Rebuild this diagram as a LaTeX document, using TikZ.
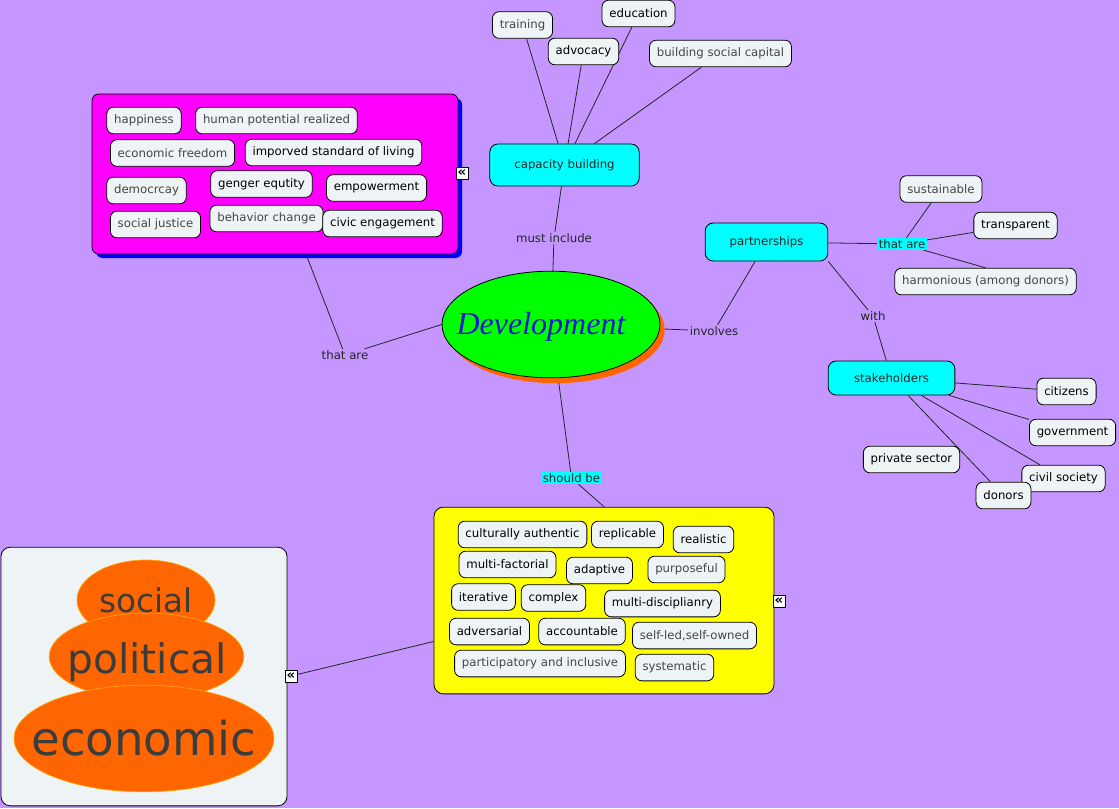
\documentclass[tikz,border=0pt]{standalone}
\usepackage{fontspec}
\setmainfont{DejaVu Sans}
\newfontfamily\devfont{Liberation Serif}
\usetikzlibrary{shapes.geometric, shadows, backgrounds}
\definecolor{lilac}{HTML}{C596FF}
\definecolor{pale}{HTML}{EEF4F5}
\definecolor{ink}{HTML}{454545}
\definecolor{dark}{HTML}{3C3C3C}
\definecolor{peel}{HTML}{FF6600}
\definecolor{aqua}{HTML}{00FFFF}
\definecolor{fuchsia}{HTML}{FF00FF}
\definecolor{lemon}{HTML}{FFFF00}
\definecolor{lime}{HTML}{00FF00}
\definecolor{royal}{HTML}{0000FF}
\definecolor{devblue}{HTML}{1A1ACC}
\tikzset{
  item/.style={draw=black, line width=0.6pt, fill=pale, rounded corners=5pt, inner xsep=5.5pt,
               inner ysep=0pt, minimum height=20pt, text=#1, font=\fontsize{8.8}{10}\selectfont},
  item/.default=black,
  cbox/.style={draw=black, line width=0.6pt, fill=aqua, rounded corners=6pt, minimum width=#1,
               text=black!85, font=\fontsize{8.8}{10}\selectfont},
  lbl/.style={inner sep=1pt, text=black!85, font=\fontsize{8.8}{10}\selectfont},
  hlbl/.style={lbl, fill=aqua},
  panel/.style={draw=black, line width=0.6pt, rounded corners=6pt, minimum width=#1},
  blob/.style={ellipse, fill=peel, draw=orange!70!yellow, line width=0.5pt, inner sep=0pt},
  bigword/.style={text=dark, font=\fontsize{#1}{#1}\selectfont},
  fold/.style={draw=black, fill=white, line width=0.5pt, inner sep=0pt, minimum width=9pt,
               minimum height=9pt, font=\bfseries\fontsize{10}{10}\selectfont},
  link/.style={draw=black!85, line width=0.6pt},
}

\begin{document}
\begin{tikzpicture}[x=0.75pt, y=-0.75pt]
  \useasboundingbox (0,0) rectangle (1119,808);
  \begin{scope}[on background layer]
    \fill[lilac] (0,0) rectangle (1119,808);
  \end{scope}

  % centre
  \node[ellipse, draw=black, line width=0.6pt, fill=lime, minimum width=163.5pt, minimum height=80pt,
        general shadow={fill=peel, shadow xshift=3.5pt, shadow yshift=-4pt}] (dev) at (551,324.5) {};
  \node[text=devblue, font=\devfont\itshape\fontsize{24}{24}\selectfont] (devtxt) at (541,327) {Development};

  % what development is
  \node[panel=274.5pt, minimum height=120pt, fill=fuchsia, rounded corners=5pt,
        general shadow={fill=royal, shadow xshift=3pt, shadow yshift=-3pt}] (goals) at (275,174) {};
  \foreach \nm/\px/\py/\col/\txt in {
      hap/144/120.5/ink/happiness,
      hpr/276.5/120.5/ink/human potential realized,
      ecf/172.5/153/ink/economic freedom,
      isl/333.5/152.5/black/imporved standard of living,
      dem/146.5/190.5/ink/democrcay,
      geq/261.5/184/black/genger equtity,
      emp/376.5/188/black/empowerment,
      sj/155.5/224.5/ink/social justice,
      beh/266.5/218.5/ink/behavior change,
      ceng/382.5/223.5/black/civic engagement}
    \node[item=\col] (\nm) at (\px,\py) {\txt};
  \node[fold] (fgoals) at (462,173) {«};
  \node[lbl] (thatL) at (345,355) {that are};

  % capacity building
  \node[cbox=112pt, minimum height=31.5pt] (cap) at (564.5,165) {capacity building};
  \node[item=ink] (train) at (522.5,25) {training};
  \node[item] (edu) at (638.5,13.5) {education};
  \node[item] (adv) at (583.5,51.5) {advocacy};
  \node[item=ink] (bsc) at (720.5,53.5) {building social capital};
  \node[lbl] (must) at (554,238) {must include};

  % partnerships and stakeholders
  \node[lbl] (inv) at (714,331) {involves};
  \node[cbox=92pt, minimum height=28.5pt] (part) at (766.5,242) {partnerships};
  \node[hlbl] (thatR) at (902,244) {that are};
  \node[item=ink] (sus) at (941,189) {sustainable};
  \node[item] (trans) at (1015.5,225.5) {transparent};
  \node[item=ink] (harm) at (985.5,281.5) {harmonious (among donors)};
  \node[lbl] (with) at (873,316) {with};
  \node[cbox=95pt, minimum height=25.5pt] (stake) at (891.5,378) {stakeholders};
  \node[item] (cit) at (1066.5,391.5) {citizens};
  \node[item] (gov) at (1072.5,432.5) {government};
  \node[item] (psec) at (911.5,459.5) {private sector};
  \node[item] (civ) at (1063.5,478.5) {civil society};
  \node[item] (don) at (1003.5,495.5) {donors};

  % qualities
  \node[hlbl] (should) at (571.5,478) {should be};
  \node[panel=255pt, minimum height=140pt, fill=lemon, rounded corners=7pt] (qual) at (604,600.5) {};
  \foreach \nm/\px/\py/\col/\txt in {
      cult/522.5/534.5/black/culturally authentic,
      repl/627.5/534.5/black/replicable,
      real/703.5/539.5/black/realistic,
      mfac/507.5/564.5/black/multi-factorial,
      adap/599.5/570.5/black/adaptive,
      purp/686.5/569.5/ink/purposeful,
      iter/483.5/597/black/iterative,
      cplx/553.5/598/black/complex,
      mdis/662.5/603.5/black/multi-disciplianry,
      adve/489.5/631.5/black/adversarial,
      acct/582/631.5/black/accountable,
      self/694.5/635.5/ink/{self-led,self-owned},
      pinc/540/663.5/ink/participatory and inclusive,
      syst/674.5/667.5/ink/systematic}
    \node[item=\col] (\nm) at (\px,\py) {\txt};
  \node[fold] (fqual) at (779,601) {«};

  % dimensions
  \node[panel=214.5pt, minimum height=194pt, fill=pale, rounded corners=7pt] (dims) at (144,676.5) {};
  \node[blob, minimum width=103.5pt, minimum height=60pt] (soc) at (146,600) {};
  \node[blob, minimum width=146pt, minimum height=65pt] (pol) at (146.5,656.5) {};
  \node[blob, minimum width=195pt, minimum height=80pt] (eco) at (144,738.5) {};
  \node[bigword=24.5] (soctxt) at (146,600) {social};
  \node[bigword=30.5] (poltxt) at (147,662) {political};
  \node[bigword=35] (ecotxt) at (144,738) {economic};
  \node[fold] (fdims) at (291,676) {«};

  % connectors
  \begin{scope}[on background layer]
    \draw[link] (cap) -- (train);
    \draw[link] (cap) -- (adv);
    \draw[link] (cap) -- (edu);
    \draw[link] (cap) -- (bsc);
    \draw[link] (cap) -- (must) -- (dev);
    \draw[link] (goals) -- (thatL) -- (dev.west);
    \draw[link] (dev) -- (inv) -- (part);
    \draw[link] (part) -- (thatR);
    \draw[link] (thatR) -- (sus);
    \draw[link] (thatR) -- (trans);
    \draw[link] (thatR) -- (harm.north);
    \draw[link] (part.south east) -- (with) -- (stake);
    \draw[link] (stake) -- (cit);
    \draw[link] (stake) -- (gov);
    \draw[link] (stake) -- (civ);
    \draw[link] (stake) -- (don);
    \draw[link] (dev) -- (should) -- (qual.north);
    \draw[link] (qual) -- (fdims);
  \end{scope}
\end{tikzpicture}
\end{document}
